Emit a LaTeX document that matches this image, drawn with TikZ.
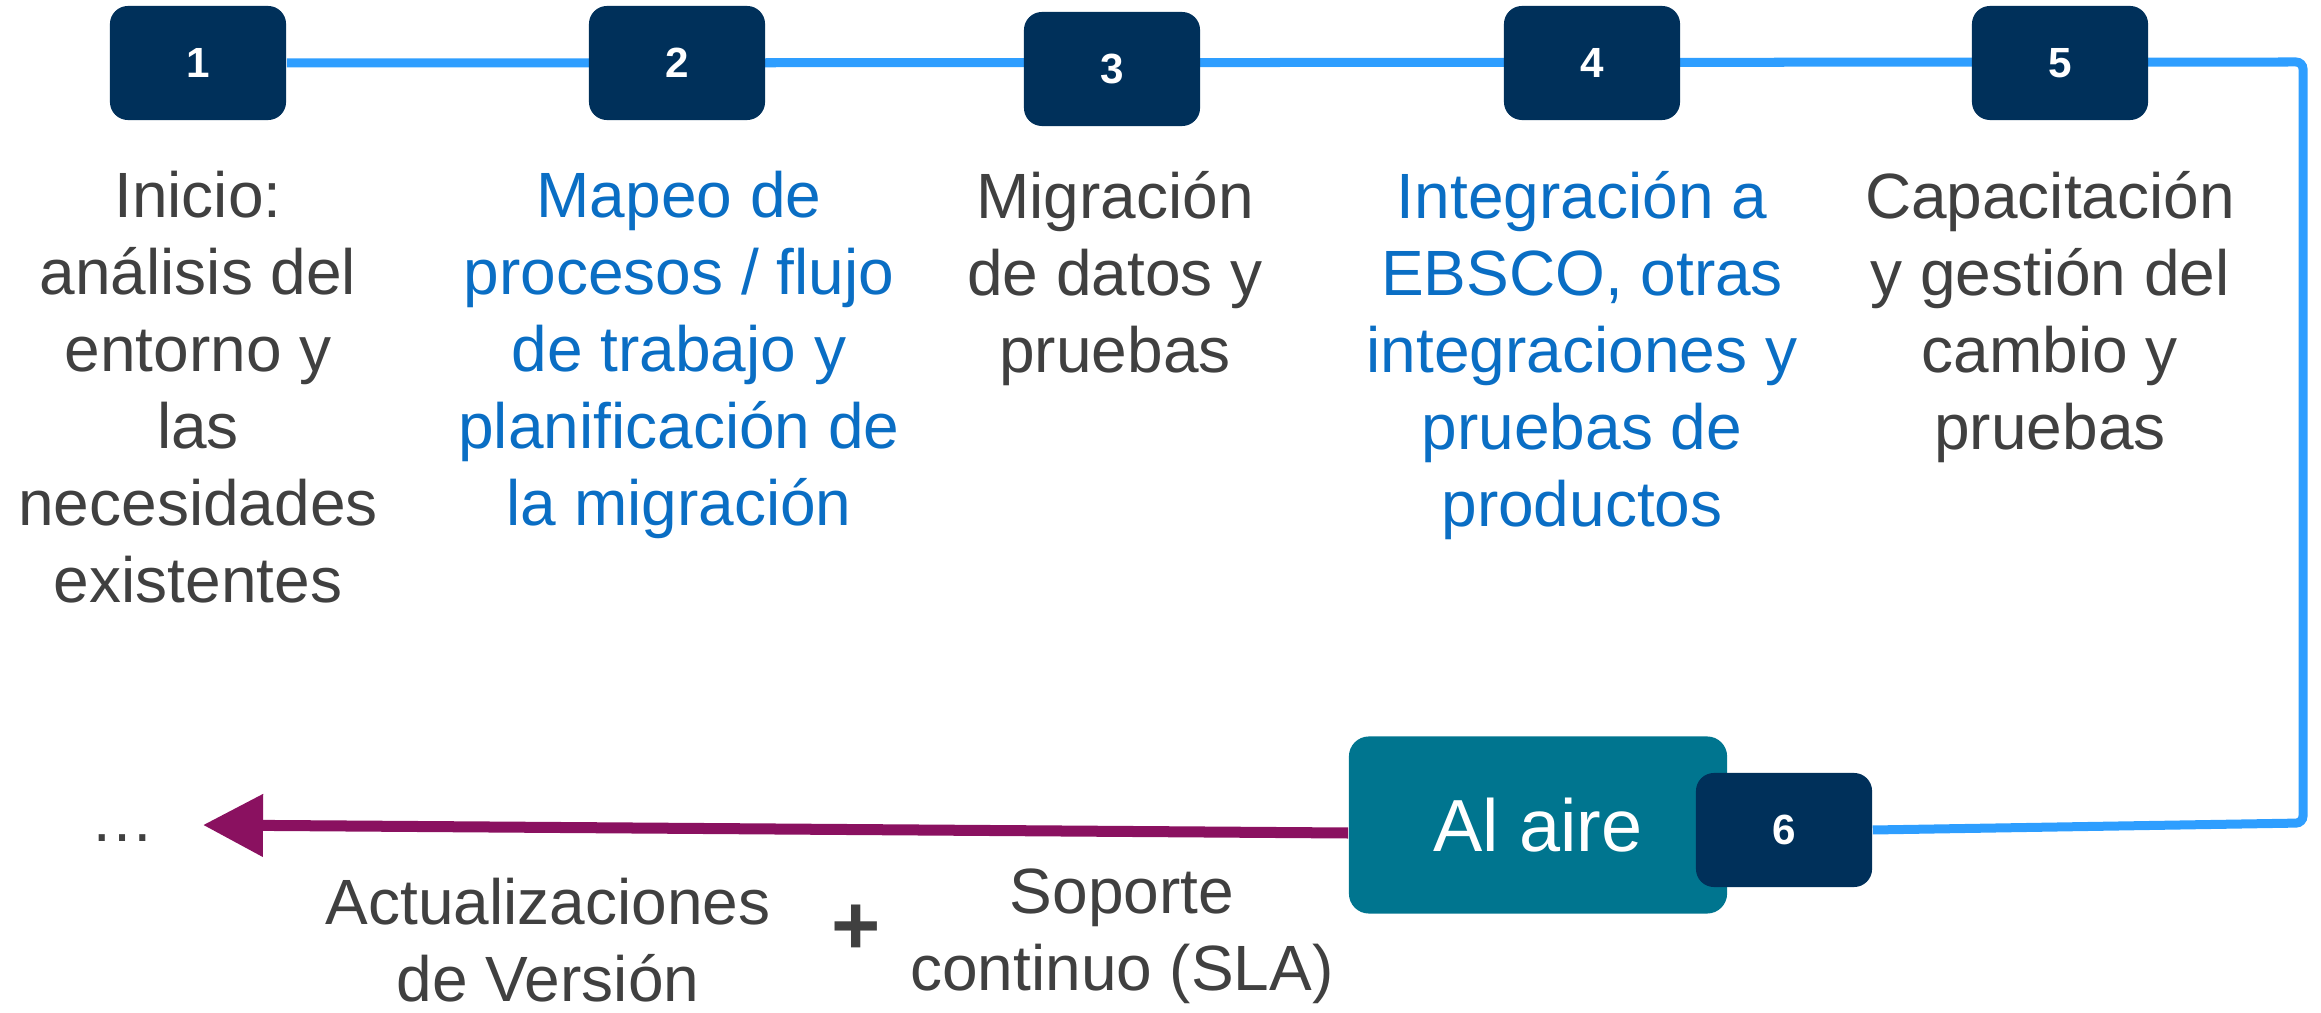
\documentclass[tikz,border=0pt]{standalone}
\usepackage{fontspec}
\setmainfont{Liberation Sans}
\usetikzlibrary{positioning,arrows.meta,backgrounds}
\definecolor{navy}{HTML}{00305A}
\definecolor{linkblue}{HTML}{2E9EFF}
\definecolor{textblue}{HTML}{0A6EC4}
\definecolor{textgray}{HTML}{404040}
\definecolor{airteal}{HTML}{00758F}
\definecolor{plum}{HTML}{8A1160}
\tikzset{
  stepbox/.style={fill=navy, rounded corners=0.18cm, minimum width=1.76cm, minimum height=1.14cm,
    text=white, font=\bfseries\fontsize{12pt}{14pt}\selectfont},
  steptext/.style={align=center, inner sep=0pt, text=textgray, font=\fontsize{18.2pt}{21.9pt}\selectfont},
  airbox/.style={fill=airteal, rounded corners=0.2cm, minimum width=3.78cm, minimum height=1.77cm,
    text=white, font=\fontsize{21pt}{24pt}\selectfont},
  link/.style={draw=linkblue, line width=0.09cm, rounded corners=2pt},
  plumarrow/.style={draw=plum, line width=0.11cm, -{Triangle[length=0.6cm, width=0.6cm]}, plum},
}
\begin{document}
\begin{tikzpicture}[x=0.01cm, y=-0.01cm]
  \useasboundingbox (0,0) rectangle (2321,1013);
  % step boxes along the top
  \node[stepbox] (b1) at (198,63) {1};
  \node[stepbox] (b2) at (677,63) {2};
  \node[stepbox] (b3) at (1112,69) {3};
  \node[stepbox] (b4) at (1592,63) {4};
  \node[stepbox] (b5) at (2060,63) {5};
  % step descriptions
  \node[steptext, below=0.5cm of b1] (t1) {Inicio:\\análisis del\\entorno y\\las\\necesidades\\existentes};
  \node[steptext, text=textblue, below=0.5cm of b2, xshift=0.02cm] (t2) {Mapeo de\\procesos / flujo\\de trabajo y\\planificación de\\la migración};
  \node[steptext, below=0.44cm of b3, xshift=0.03cm] (t3) {Migración\\de datos y\\pruebas};
  \node[steptext, text=textblue, below=0.5cm of b4, xshift=-0.1cm] (t4) {Integración a\\EBSCO, otras\\integraciones y\\pruebas de\\productos};
  \node[steptext, below=0.5cm of b5, xshift=-0.1cm] (t5) {Capacitación\\y gestión del\\cambio y\\pruebas};
  % go live
  \node[airbox] (aire) at (1538,825) {Al aire};
  \node[stepbox] (b6) at (1784,830) {6};
  \coordinate (cornertop) at (2303,62);
  \coordinate (cornerbot) at (2303,823);
  \begin{scope}[on background layer]
    \draw[link] (b1.east) -- (cornertop) -- (cornerbot) -- (b6.east);
  \end{scope}
  % after go live
  \node[steptext] (dots) at (123,838) {…};
  \coordinate (tip) at (203,825);
  \draw[plumarrow] ([yshift=-0.08cm]aire.west) -- (tip);
  \node[steptext] (upd) at (548,940) {Actualizaciones\\de Versión};
  \node[steptext, font=\bfseries\fontsize{24pt}{28pt}\selectfont] (plus) at (856,930) {+};
  \node[steptext] (sla) at (1122,936) {Soporte\\continuo (SLA)};
\end{tikzpicture}
\end{document}
